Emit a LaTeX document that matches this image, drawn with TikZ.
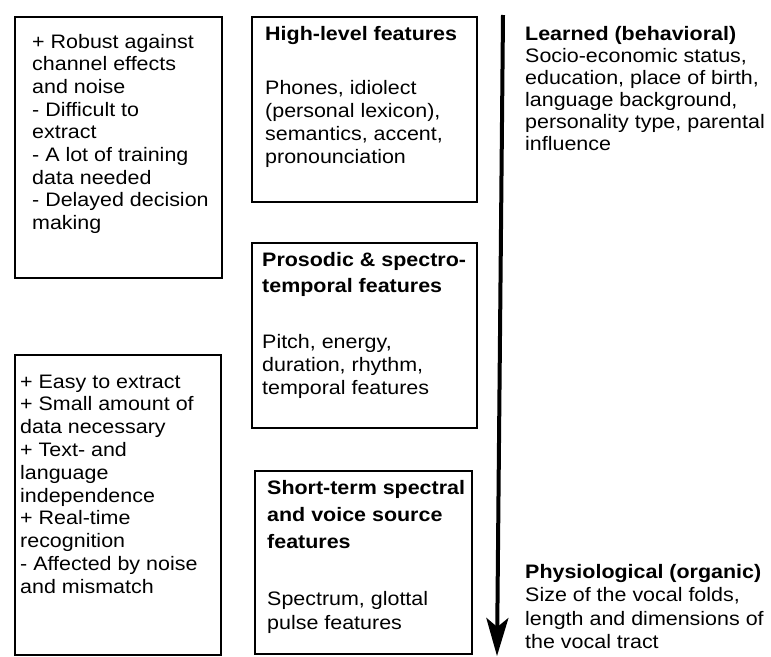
\documentclass[tikz,border=0pt]{standalone}
\usepackage{fontspec}
\setmainfont[FakeStretch=1.10]{Liberation Sans}
\usetikzlibrary{arrows.meta}
% a block of left-aligned lines, first baseline on the node's base
\newcommand\featlines[2]{\parbox[t]{300pt}{\fontsize{19.5}{#1}\selectfont\raggedright #2}}
\begin{document}
\begin{tikzpicture}[x=1pt,y=-1pt,
  box/.style={draw=black, line width=2pt, inner sep=0pt, anchor=north west},
  txt/.style={anchor=base west, inner sep=0pt},
  trend/.style={line width=4pt, -{Stealth[length=38pt,width=22pt,inset=9pt]}},
]
\useasboundingbox (0,0) rectangle (771,656);

% pros and cons boxes
\node[box, minimum width=207pt, minimum height=261pt] (highCons) at (14,16) {};
\node[txt] (highConsTxt) at (32,48) {\featlines{22.7pt}{+ Robust against\\channel effects\\and noise\\- Difficult to\\extract\\- A lot of training\\data needed\\- Delayed decision\\making}};

\node[box, minimum width=206pt, minimum height=300pt] (lowCons) at (14,354) {};
\node[txt] (lowConsTxt) at (20,388) {\featlines{22.8pt}{+ Easy to extract\\+ Small amount of\\data necessary\\+ Text- and\\language\\independence\\+ Real-time\\recognition\\- Affected by noise\\and mismatch}};

% feature levels
\node[box, minimum width=225pt, minimum height=185pt] (highBox) at (251,16) {};
\node[txt] (highTitle) at (265,40) {\featlines{26.7pt}{\textbf{High-level features}}};
\node[txt] (highBody) at (265,94) {\featlines{23.3pt}{Phones, idiolect\\(personal lexicon),\\semantics, accent,\\pronounciation}};

\node[box, minimum width=225pt, minimum height=185pt] (prosBox) at (251,242) {};
\node[txt] (prosTitle) at (262,266) {\featlines{26.7pt}{\textbf{Prosodic \& spectro-\\temporal features}}};
\node[txt] (prosBody) at (262,348) {\featlines{23.3pt}{Pitch, energy,\\duration, rhythm,\\temporal features}};

\node[box, minimum width=217pt, minimum height=183pt] (shortBox) at (254,470) {};
\node[txt] (shortTitle) at (267,494) {\featlines{27pt}{\textbf{Short-term spectral\\and voice source\\features}}};
\node[txt] (shortBody) at (267,605) {\featlines{24pt}{Spectrum, glottal\\pulse features}};

% learned-to-physiological axis
\coordinate (axisTop) at (503,15);
\coordinate (axisTip) at (497,656);
\draw[trend] (axisTop) -- (axisTip);

\node[txt] (learned) at (525,40) {\featlines{22pt}{\textbf{Learned (behavioral)}\\Socio-economic status,\\education, place of birth,\\language background,\\personality type, parental\\influence}};
\node[txt] (physio) at (525,578) {\featlines{23.6pt}{\textbf{Physiological (organic)}\\Size of the vocal folds,\\length and dimensions of\\the vocal tract}};
\end{tikzpicture}
\end{document}
